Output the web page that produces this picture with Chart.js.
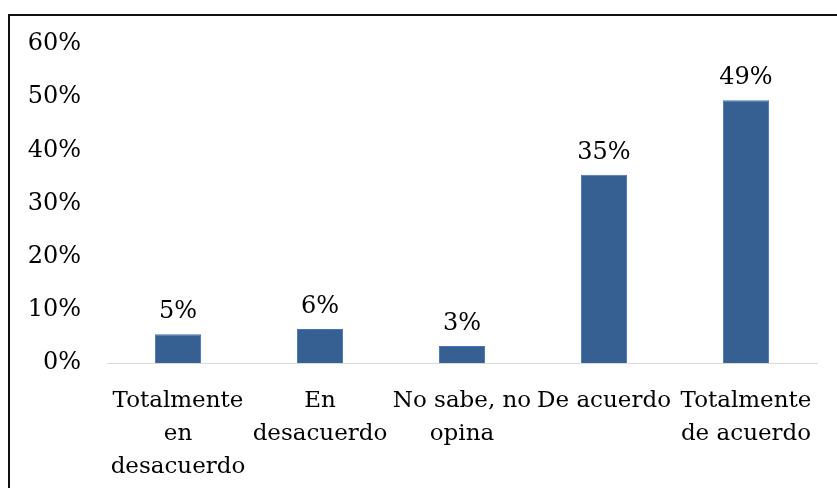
<!DOCTYPE html>
<html>
<head>
<meta charset="utf-8">
<script src="https://cdn.jsdelivr.net/npm/chart.js@4"></script>
<style>
  html, body { margin: 0; padding: 0; background: #fff; }
  #wrap { position: relative; width: 837px; height: 488px; overflow: hidden; }
  #frame { position: absolute; left: 8px; top: 14px; width: 840px; height: 490px;
           border: 2px solid #111; pointer-events: none; }
</style>
</head>
<body>
<div id="wrap">
  <canvas id="chart" width="837" height="488"></canvas>
  <div id="frame"></div>
</div>
<script>
// ------------------ DATA ------------------
const categories = [
  ["Totalmente", "en", "desacuerdo"],
  ["En", "desacuerdo"],
  ["No sabe, no", "opina"],
  ["De acuerdo"],
  ["Totalmente", "de acuerdo"]
];
const percentages = [5.4, 6.4, 3.2, 35.4, 49.4];
const yTicks = [0, 10, 20, 30, 40, 50, 60];

const FONT = "'DejaVu Serif', serif";

// value labels above each bar
const barLabels = {
  id: "barLabels",
  afterDatasetsDraw(chart) {
    const ctx = chart.ctx;
    const meta = chart.getDatasetMeta(0);
    ctx.save();
    ctx.font = "24px " + FONT;
    ctx.fillStyle = "#000";
    ctx.textAlign = "center";
    ctx.textBaseline = "alphabetic";
    meta.data.forEach((bar, i) => {
      ctx.fillText(Math.round(percentages[i]) + "%", bar.x, bar.y - 16);
    });
    ctx.restore();
  }
};

new Chart(document.getElementById("chart"), {
  type: "bar",
  data: {
    labels: categories,
    datasets: [{
      data: percentages,
      backgroundColor: "#376092",
      borderColor: "#4472c4",
      borderWidth: 1,
      categoryPercentage: 1,
      barPercentage: 0.325
    }]
  },
  options: {
    responsive: false,
    animation: false,
    layout: { padding: { left: 20, right: 20, top: 44, bottom: 0 } },
    plugins: { legend: { display: false }, tooltip: { enabled: false } },
    scales: {
      x: {
        grid: { display: false },
        border: { display: true, color: "#d9d9d9", width: 1 },
        ticks: {
          color: "#000",
          font: { family: FONT, size: 23, lineHeight: "33px" },
          padding: 14,
          maxRotation: 0,
          autoSkip: false
        },
        afterFit(scale) { scale.height = 125; }
      },
      y: {
        min: 0,
        max: 60,
        afterBuildTicks(scale) { scale.ticks = yTicks.map(v => ({ value: v })); },
        grid: { display: false, drawTicks: false },
        border: { display: false },
        ticks: {
          color: "#000",
          font: { family: FONT, size: 24 },
          padding: 26,
          callback: v => v + "%"
        },
        afterFit(scale) { scale.width = 87; }
      }
    }
  },
  plugins: [barLabels]
});
</script>
</body>
</html>
